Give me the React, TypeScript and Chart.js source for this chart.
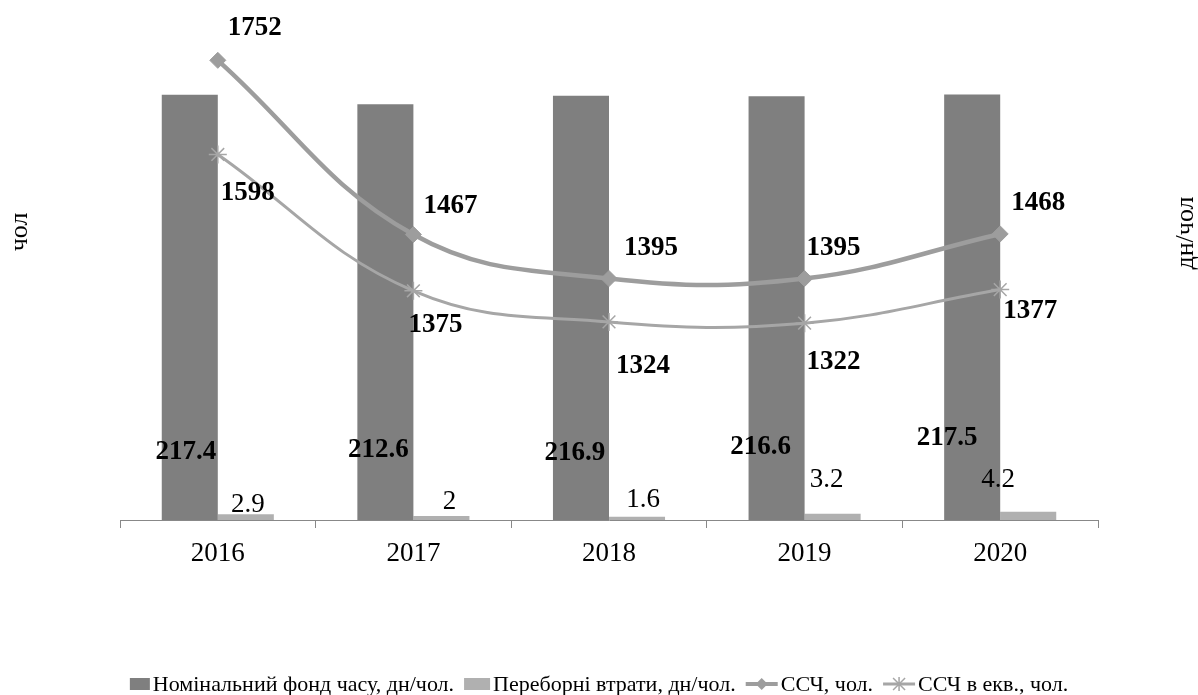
import React, { useEffect, useRef } from "react";
import { Chart, registerables } from "chart.js";

Chart.register(...registerables);

const categories = ["2016", "2017", "2018", "2019", "2020"];
const nominalFund = [217.4, 212.6, 216.9, 216.6, 217.5];
const overtimeLosses = [2.9, 2, 1.6, 3.2, 4.2];
const headcount = [1752, 1467, 1395, 1395, 1468];
const headcountEq = [1598, 1375, 1324, 1322, 1377];

const seriesNames = [
  "Номінальний фонд часу, дн/чол.",
  "Переборні втрати, дн/чол.",
  "ССЧ, чол.",
  "ССЧ в екв., чол.",
];
const axisTitleLeft = "чол";
const axisTitleRight = "дн/чол";

const FONT = "'Liberation Serif', 'Times New Roman', serif";
const DARK = "#7f7f7f";
const LIGHT = "#b0b0b0";
const LINE1 = "#9d9d9d";
const LINE2 = "#a6a6a6";

// label placement offsets (layout only)
const labelOffsets: Record<number, { offs: number[][]; bold: boolean; fromBase?: boolean }> = {
  0: { offs: [[-4, -68], [-7, -70], [-6, -67], [-16, -73], [-25, -82]], bold: true, fromBase: true },
  1: { offs: [[2, -9], [8, -14], [6, -17], [-6, -34], [-30, -32]], bold: false },
  2: { offs: [[37, -32], [37, -29], [42, -31], [29, -31], [38, -31]], bold: true },
  3: { offs: [[30, 39], [22, 34], [34, 44], [29, 39], [30, 21]], bold: true },
};

const labelPlugin = {
  id: "valueLabels",
  afterDatasetsDraw(chart: any) {
    const ctx = chart.ctx;
    ctx.save();
    ctx.fillStyle = "#000";
    ctx.textAlign = "center";
    ctx.textBaseline = "middle";
    chart.data.datasets.forEach((ds: any, di: number) => {
      const meta = chart.getDatasetMeta(di);
      const cfg = labelOffsets[di];
      if (!cfg) return;
      ctx.font = `${cfg.bold ? "bold " : ""}27px ${FONT}`;
      meta.data.forEach((el: any, i: number) => {
        const [dx, dy] = cfg.offs[i];
        const baseY = cfg.fromBase ? el.base : el.y;
        ctx.fillText(String(ds.data[i]), el.x + dx, baseY + dy);
      });
    });
    ctx.restore();
  },
};

const decorPlugin = {
  id: "decor",
  afterDraw(chart: any) {
    const ctx = chart.ctx;
    ctx.save();
    // axis titles (both read bottom-to-top)
    ctx.fillStyle = "#000";
    ctx.font = `26px ${FONT}`;
    ctx.textAlign = "center";
    ctx.textBaseline = "middle";
    const titles: [string, number, number][] = [
      [axisTitleLeft, 20, 232],
      [axisTitleRight, 1186, 233],
    ];
    titles.forEach(([t, x, y]) => {
      ctx.save();
      ctx.translate(x, y);
      ctx.rotate(-Math.PI / 2);
      ctx.fillText(t, 0, 0);
      ctx.restore();
    });

    // legend
    ctx.font = `22px ${FONT}`;
    ctx.textAlign = "left";
    const ly = 684;
    const symW = [20, 26, 32, 32];
    const gapSym = 3;
    const gapItem = 10;
    let total = 0;
    seriesNames.forEach((n, i) => {
      total += symW[i] + gapSym + ctx.measureText(n).width + (i < 3 ? gapItem : 0);
    });
    let x = (chart.width - total) / 2;
    seriesNames.forEach((n, i) => {
      const w = symW[i];
      if (i === 0 || i === 1) {
        ctx.fillStyle = i === 0 ? DARK : LIGHT;
        ctx.fillRect(x, ly - 6, w, 12);
      } else if (i === 2) {
        ctx.strokeStyle = LINE1;
        ctx.lineWidth = 4;
        ctx.beginPath();
        ctx.moveTo(x, ly);
        ctx.lineTo(x + w, ly);
        ctx.stroke();
        ctx.fillStyle = LINE1;
        ctx.beginPath();
        const cx = x + w / 2;
        ctx.moveTo(cx, ly - 6);
        ctx.lineTo(cx + 6, ly);
        ctx.lineTo(cx, ly + 6);
        ctx.lineTo(cx - 6, ly);
        ctx.closePath();
        ctx.fill();
      } else {
        ctx.strokeStyle = LINE2;
        ctx.lineWidth = 3;
        ctx.beginPath();
        ctx.moveTo(x, ly);
        ctx.lineTo(x + w, ly);
        ctx.stroke();
        const cx = x + w / 2;
        ctx.lineWidth = 1.5;
        ctx.beginPath();
        ctx.moveTo(cx - 6, ly - 6);
        ctx.lineTo(cx + 6, ly + 6);
        ctx.moveTo(cx + 6, ly - 6);
        ctx.lineTo(cx - 6, ly + 6);
        ctx.moveTo(cx, ly - 7);
        ctx.lineTo(cx, ly + 7);
        ctx.stroke();
      }
      x += w + gapSym;
      ctx.fillStyle = "#000";
      ctx.textBaseline = "middle";
      ctx.fillText(n, x, ly + 1);
      x += ctx.measureText(n).width + gapItem;
    });
    ctx.restore();
  },
};

export default function App() {
  const canvasRef = useRef<HTMLCanvasElement | null>(null);

  useEffect(() => {
    if (!canvasRef.current) return;
    const chart = new Chart(canvasRef.current, {
      type: "bar",
      data: {
        labels: categories,
        datasets: [
          {
            type: "bar",
            label: seriesNames[0],
            data: nominalFund,
            backgroundColor: DARK,
            yAxisID: "y1",
            order: 2,
            categoryPercentage: 0.573,
            barPercentage: 1,
          },
          {
            type: "bar",
            label: seriesNames[1],
            data: overtimeLosses,
            backgroundColor: LIGHT,
            yAxisID: "y1",
            order: 2,
            categoryPercentage: 0.573,
            barPercentage: 1,
          },
          {
            type: "line",
            label: seriesNames[2],
            data: headcount,
            borderColor: LINE1,
            backgroundColor: LINE1,
            borderWidth: 4.5,
            tension: 0.4,
            pointStyle: "rectRot",
            pointRadius: 8,
            pointBorderWidth: 1,
            pointBackgroundColor: LINE1,
            pointBorderColor: LINE1,
            yAxisID: "y",
            order: 1,
          },
          {
            type: "line",
            label: seriesNames[3],
            data: headcountEq,
            borderColor: LINE2,
            backgroundColor: LINE2,
            borderWidth: 3,
            tension: 0.4,
            pointStyle: "star",
            pointRadius: 9,
            pointBorderWidth: 1.5,
            pointBorderColor: LINE2,
            yAxisID: "y",
            order: 1,
          },
        ] as any,
      },
      options: {
        animation: false,
        responsive: true,
        maintainAspectRatio: false,
        layout: { padding: { left: 120, right: 100, top: 31, bottom: 0 } },
        plugins: {
          legend: { display: false },
          tooltip: { enabled: false },
        },
        scales: {
          x: {
            afterFit: (s: any) => {
              s.height = 175;
            },
            grid: {
              display: true,
              drawOnChartArea: false,
              drawTicks: true,
              tickLength: 8,
              color: "#888",
              offset: true,
            },
            border: { display: true, color: "#888", width: 1 },
            ticks: {
              color: "#000",
              padding: 10,
              font: { family: FONT, size: 27 },
            },
          },
          y: {
            display: false,
            position: "left",
            min: 1000,
            max: 1800,
          },
          y1: {
            display: false,
            position: "right",
            min: 0,
            max: 250,
          },
        },
      } as any,
      plugins: [labelPlugin, decorPlugin],
    });
    return () => chart.destroy();
  }, []);

  return (
    <div style={{ position: "absolute", left: 0, top: 0, width: 1198, height: 695, background: "#fff" }}>
      <canvas ref={canvasRef} />
    </div>
  );
}
